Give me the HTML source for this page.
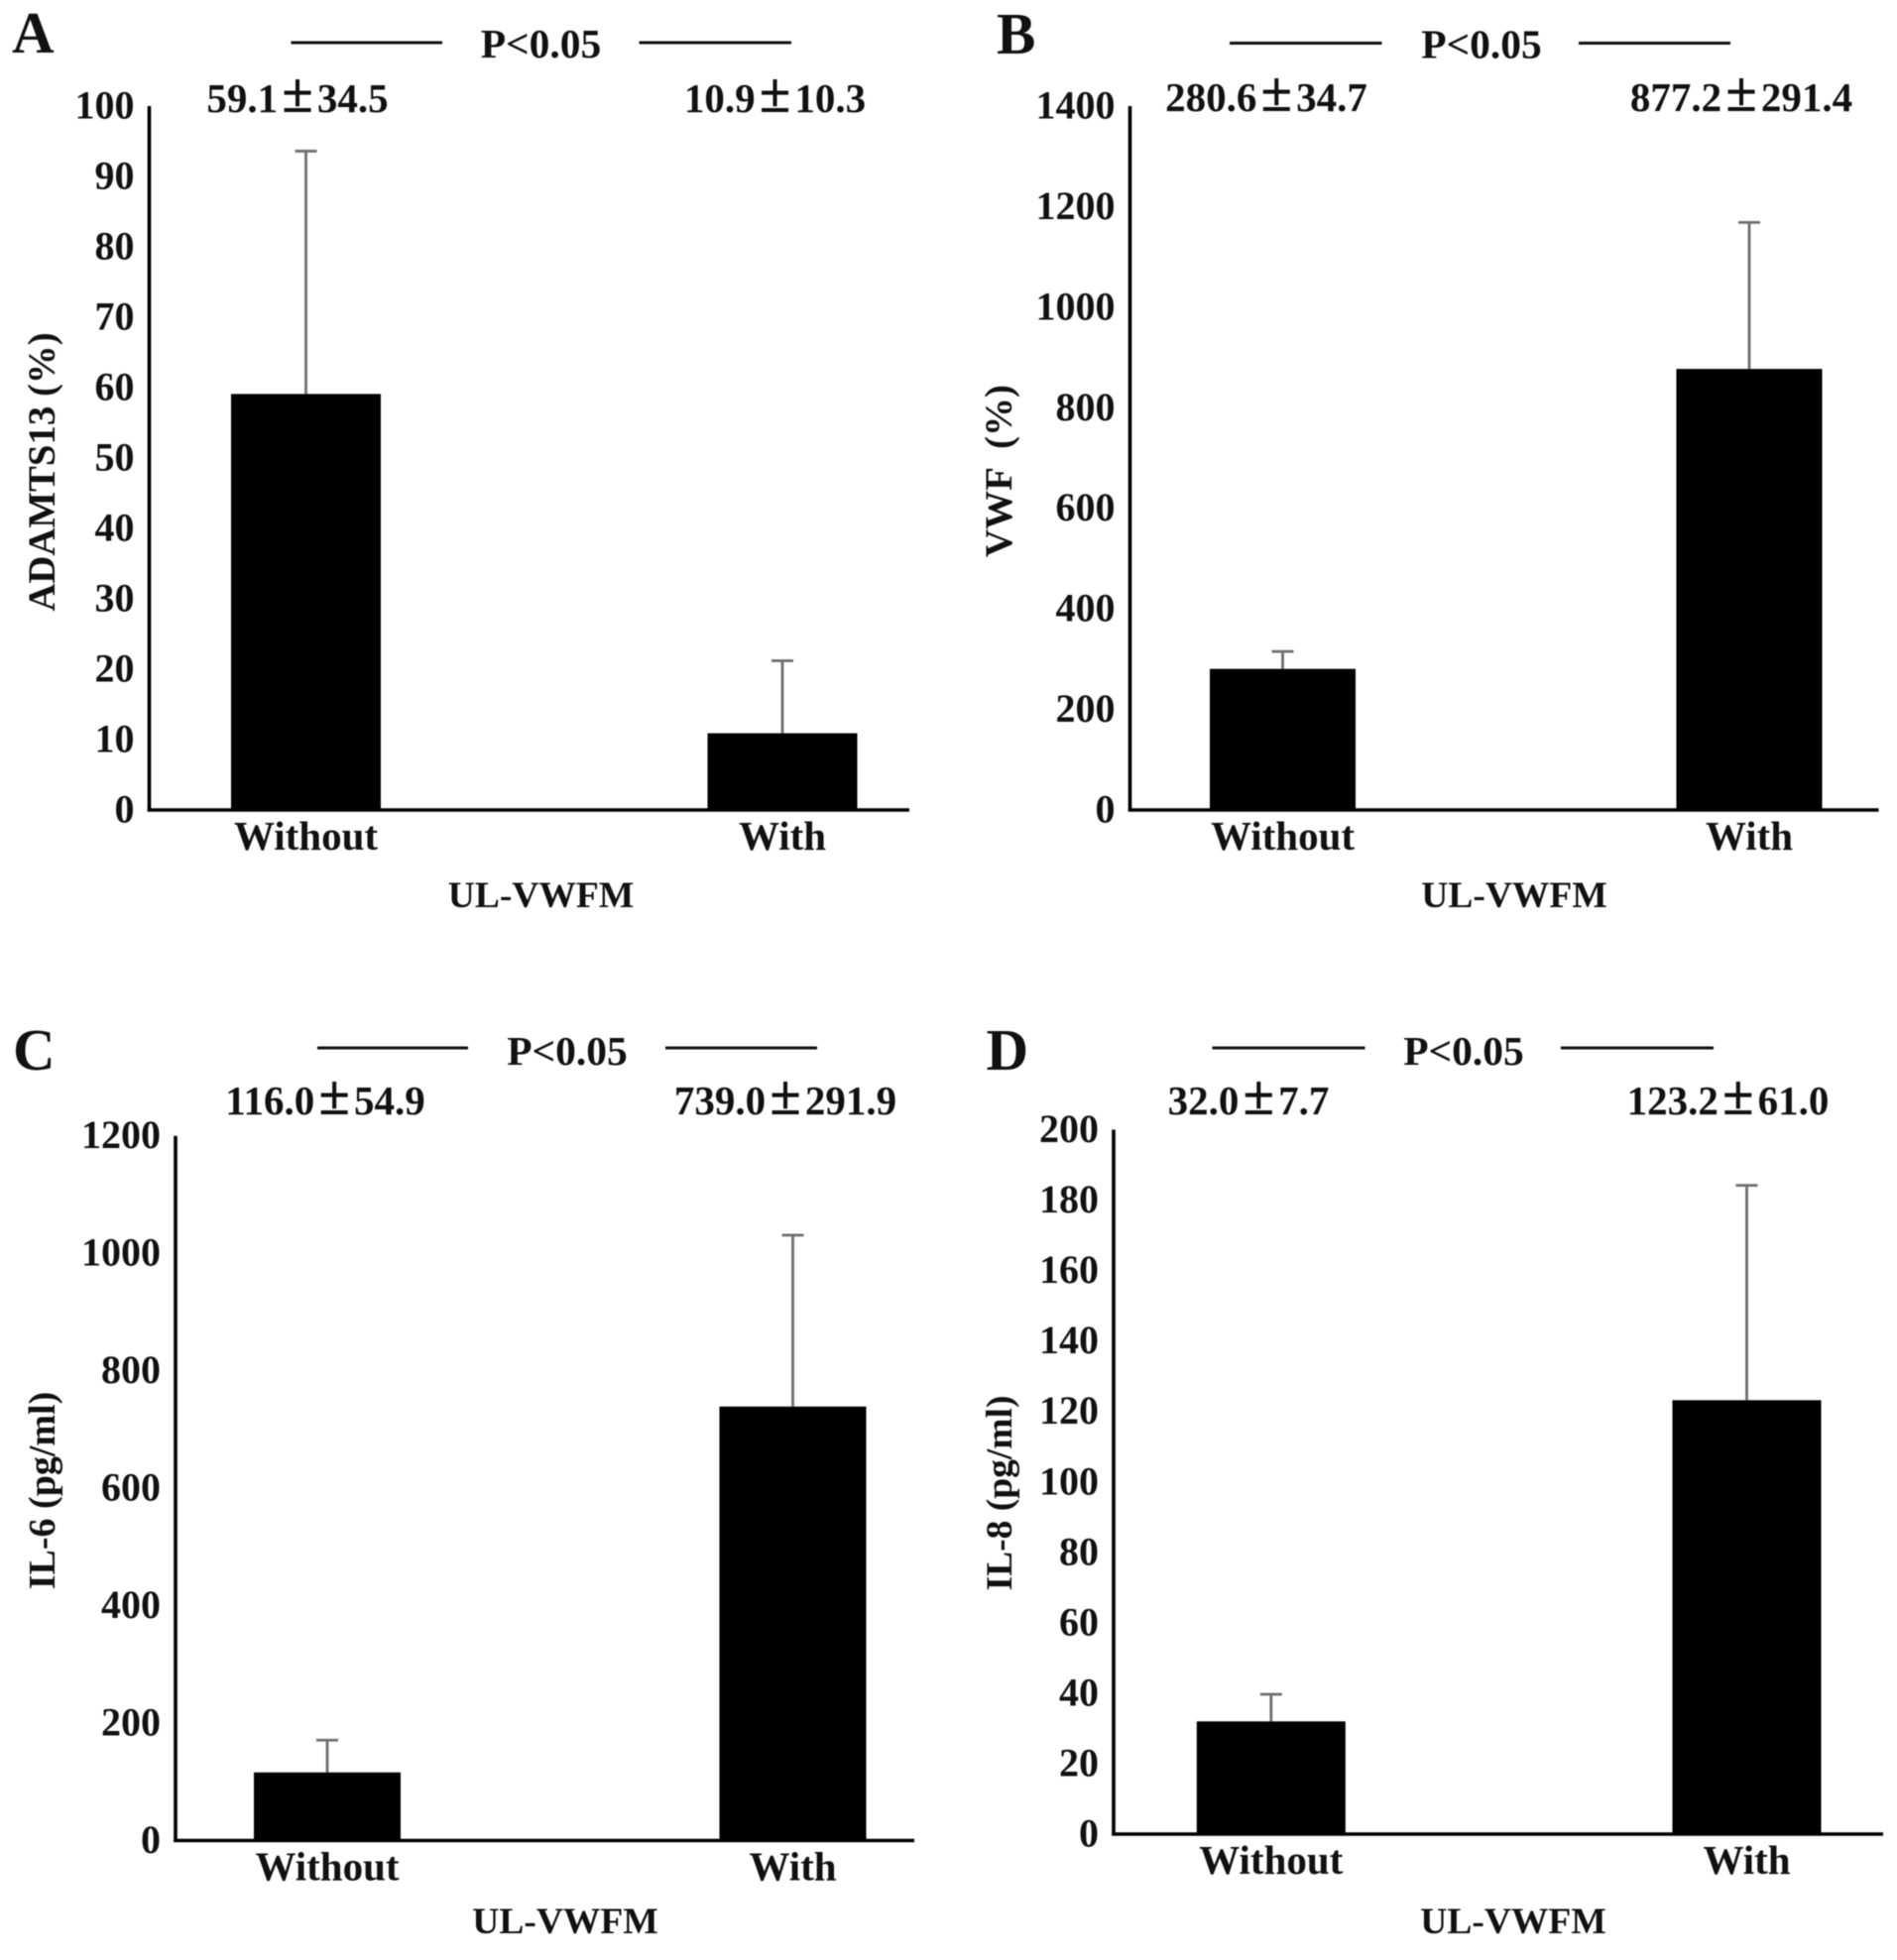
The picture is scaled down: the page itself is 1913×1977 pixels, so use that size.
<!DOCTYPE html>
<html lang="en">
<head>
<meta charset="utf-8">
<title>UL-VWFM bar charts</title>
<style>
html,body{margin:0;padding:0;background:#fff;}
svg{display:block;filter:blur(0.6px);}
text{font-family:"Liberation Serif","Noto Serif CJK SC",serif;font-weight:bold;fill:#111;}
</style>
</head>
<body>
<svg id="figure" xmlns="http://www.w3.org/2000/svg" width="1913" height="1977" viewBox="0 0 1913 1977"></svg>
<script>
const categories = ['Without', 'With'];

const adamtsMeans = [59.1, 10.9];
const adamtsErrors = [34.5, 10.3];
const adamtsTicks = [0, 10, 20, 30, 40, 50, 60, 70, 80, 90, 100];

const vwfMeans = [280.6, 877.2];
const vwfErrors = [34.7, 291.4];
const vwfTicks = [0, 200, 400, 600, 800, 1000, 1200, 1400];

const il6Means = [116.0, 739.0];
const il6Errors = [54.9, 291.9];
const il6Ticks = [0, 200, 400, 600, 800, 1000, 1200];

const il8Means = [32.0, 123.2];
const il8Errors = [7.7, 61.0];
const il8Ticks = [0, 20, 40, 60, 80, 100, 120, 140, 160, 180, 200];

const xAxisTitle = 'UL-VWFM';
const significance = 'P<0.05';

const svg = document.getElementById('figure');
const NS = 'http://www.w3.org/2000/svg';

function make(tag, attrs, parent) {
  const el = document.createElementNS(NS, tag);
  for (const k in attrs) el.setAttribute(k, attrs[k]);
  parent.appendChild(el);
  return el;
}
function label(str, x, y, size, anchor, parent) {
  const t = make('text', {x: x, y: y, 'font-size': size, 'text-anchor': anchor}, parent);
  t.textContent = str;
  return t;
}

function drawPanel(p) {
  const g = make('g', {}, svg);
  
  

  const yScale = v => p.baseline - (v / p.ticks[p.ticks.length - 1]) * (p.baseline - p.top);
  const xScale = i => p.firstCenter + i * (p.secondCenter - p.firstCenter) / (categories.length - 1);

  const letter = label(p.id, p.letterX, p.letterY, 59, 'start', g);
  
  

  p.sigLines.forEach(function (s) {
    const ln = make('line', {x1: s[0], x2: s[1], y1: p.sigY, y2: p.sigY, stroke: '#111', 'stroke-width': 3}, g);
    
    
  });
  const sig = label(significance, p.sigX, p.sigTextY, 41.5, 'middle', g);
  
  

  // bars and error bars
  p.means.forEach(function (m, i) {
    const cx = xScale(i);
    const top = yScale(m + p.errors[i]);
    const stem = make('line', {x1: cx, x2: cx, y1: top, y2: yScale(m), stroke: '#6e6e6e', 'stroke-width': 2.8}, g);
    
    
    const cap = make('line', {x1: cx - 11, x2: cx + 11, y1: top, y2: top, stroke: '#6e6e6e', 'stroke-width': 2.8}, g);
    
    
    const bar = make('rect', {x: cx - p.barWidth / 2, y: yScale(m), width: p.barWidth, height: p.baseline - yScale(m), fill: '#000'}, g);
    
    

    const cat = label(categories[i], cx, p.baseline + 40, 41, 'middle', g);
    
    

    const val = make('text', {x: p.valueX[i], y: p.valueY, 'font-size': 41, 'text-anchor': 'middle'}, g);
    
    
    const a = make('tspan', {}, val);
    a.textContent = m.toFixed(1);
    const pm = make('tspan', {'font-size': 58, dx: 4}, val);
    pm.textContent = '\u00B1';
    const b = make('tspan', {dx: 4}, val);
    b.textContent = p.errors[i].toFixed(1);
  });

  // axes
  const yAxis = make('line', {x1: p.axisX, x2: p.axisX, y1: p.top, y2: p.baseline + 1.5, stroke: '#000', 'stroke-width': 3.6}, g);
  
  
  const xAxis = make('line', {x1: p.axisX - 1.8, x2: p.right, y1: p.baseline, y2: p.baseline, stroke: '#000', 'stroke-width': 3.6}, g);
  
  

  p.ticks.forEach(function (t) {
    const tl = label(String(t), p.axisX - 15, yScale(t) + 12.5, 40, 'end', g);
    
    
  });

  const yt = make('text', {x: 0, y: 0, 'font-size': p.yTitleSize, 'text-anchor': 'middle', transform: 'translate(' + p.yTitleX + ',' + p.yTitleY + ') rotate(-90)', 'xml:space': 'preserve'}, g);
  yt.style.whiteSpace = 'pre';
  yt.textContent = p.yTitle;
  
  

  const xt = label(xAxisTitle, p.xTitleX, p.xTitleY, 37.5, 'middle', g);
  
  
}

drawPanel({id: 'A', means: adamtsMeans, errors: adamtsErrors, ticks: adamtsTicks, yTitle: 'ADAMTS13 (%)', yTitleSize: 38.8,
  axisX: 150.5, top: 107, baseline: 817, right: 917, firstCenter: 308.5, secondCenter: 789, barWidth: 151,
  letterX: 12, letterY: 53, sigX: 545.5, sigY: 43, sigTextY: 58, sigLines: [[293.5, 446], [644.5, 798]],
  valueX: [300, 781.5], valueY: 113, yTitleX: 55, yTitleY: 476, xTitleX: 545.5, xTitleY: 915});

drawPanel({id: 'B', means: vwfMeans, errors: vwfErrors, ticks: vwfTicks, yTitle: 'VWF  (%)', yTitleSize: 39,
  axisX: 1139.5, top: 107, baseline: 817, right: 1894.5, firstCenter: 1293.5, secondCenter: 1764, barWidth: 147,
  letterX: 1005, letterY: 54, sigX: 1494, sigY: 43.5, sigTextY: 58.5, sigLines: [[1240, 1393.5], [1592, 1745]],
  valueX: [1277, 1756], valueY: 112, yTitleX: 1020, yTitleY: 475, xTitleX: 1527, xTitleY: 915});

drawPanel({id: 'C', means: il6Means, errors: il6Errors, ticks: il6Ticks, yTitle: 'IL-6 (pg/ml)', yTitleSize: 38,
  axisX: 177, top: 1145.7, baseline: 1856.5, right: 922, firstCenter: 330, secondCenter: 799.5, barWidth: 148,
  letterX: 13, letterY: 1079, sigX: 572, sigY: 1057, sigTextY: 1074, sigLines: [[320, 472], [671, 824]],
  valueX: [328, 792], valueY: 1124, yTitleX: 55, yTitleY: 1503.5, xTitleX: 570, xTitleY: 1950});

drawPanel({id: 'D', means: il8Means, errors: il8Errors, ticks: il8Ticks, yTitle: 'IL-8 (pg/ml)', yTitleSize: 37.5,
  axisX: 1123, top: 1139.5, baseline: 1850, right: 1899, firstCenter: 1281.8, secondCenter: 1761.5, barWidth: 150,
  letterX: 994.5, letterY: 1079, sigX: 1476, sigY: 1057, sigTextY: 1074, sigLines: [[1222.5, 1376.5], [1574, 1728]],
  valueX: [1259, 1742.5], valueY: 1124, yTitleX: 1020, yTitleY: 1506, xTitleX: 1526, xTitleY: 1950});
</script>
</body>
</html>
